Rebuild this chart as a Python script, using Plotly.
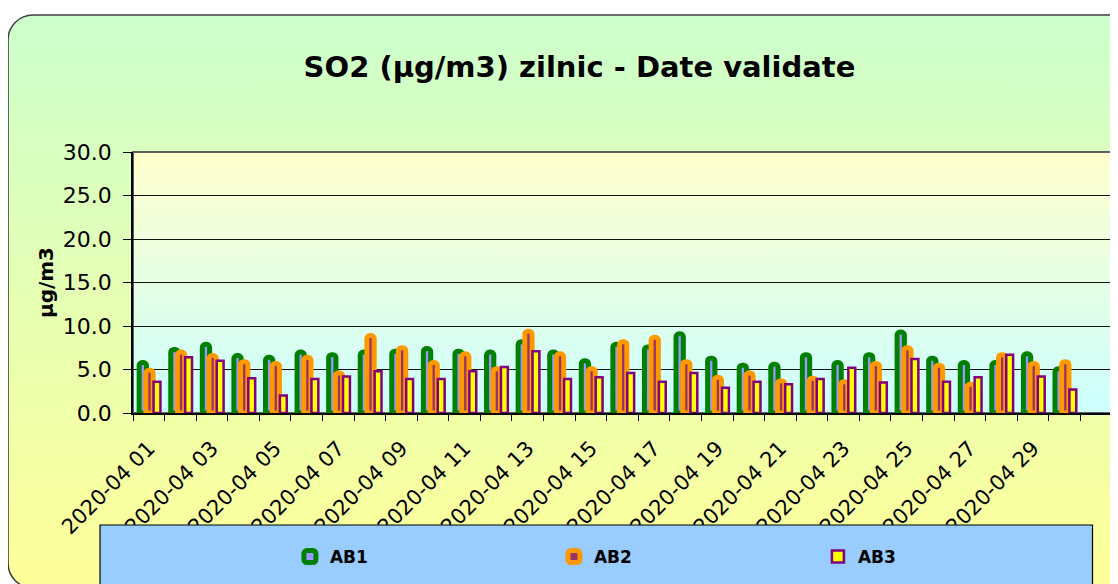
import base64
import plotly.graph_objects as go

# daily SO2 values (µg/m3), April 2020
days = [f"2020-04 {d:02d}" for d in range(1, 31)]
ab1 = [5.8, 7.3, 7.9, 6.6, 6.4, 7.0, 6.7, 7.0, 7.1, 7.4, 7.1, 7.0, 8.2, 7.0, 6.0,
       7.9, 7.6, 9.1, 6.3, 5.5, 5.6, 6.7, 5.8, 6.7, 9.3, 6.3, 5.8, 5.8, 6.8, 5.1]
ab2 = [4.9, 7.0, 6.6, 5.9, 5.7, 6.4, 4.6, 8.9, 7.5, 5.8, 6.8, 5.1, 9.4, 6.8, 5.1,
       8.2, 8.7, 5.9, 4.1, 4.6, 3.7, 4.0, 3.6, 5.7, 7.5, 5.5, 3.3, 6.7, 5.7, 5.9]
ab3 = [3.6, 6.4, 6.0, 4.0, 2.0, 3.9, 4.2, 4.8, 3.9, 3.9, 4.8, 5.3, 7.1, 3.9, 4.1,
       4.6, 3.6, 4.6, 2.9, 3.6, 3.3, 3.9, 5.2, 3.5, 6.2, 3.6, 4.1, 6.7, 4.2, 2.7]
y_ticks = [0, 5, 10, 15, 20, 25, 30]

W, H = 1118, 584
OFF = 8  # default body margin of the html page
# plot area in screen pixels
L, R, T, B = 133, 1112.5, 152, 413
PW, PH = R - L, B - T


def px_x(v):
    return (v - L) / PW


def px_y(v):
    return (B - v) / PH


svg = f'''<svg xmlns="http://www.w3.org/2000/svg" width="{W}" height="{H}" viewBox="0 0 {W} {H}" preserveAspectRatio="none">
<defs>
<linearGradient id="bg" x1="0" y1="0" x2="0" y2="1"><stop offset="0" stop-color="#CCFFCC"/><stop offset="1" stop-color="#FFFF99"/></linearGradient>
<linearGradient id="pa" x1="0" y1="0" x2="0" y2="1"><stop offset="0" stop-color="#FFFFCC"/><stop offset="1" stop-color="#CCFFFF"/></linearGradient>
</defs>
<rect x="8" y="15" width="1140" height="573" rx="25" fill="url(#bg)" stroke="#404040" stroke-width="1.5"/>
<rect x="{L}" y="{T}" width="{PW}" height="{PH}" fill="url(#pa)" stroke="#606060" stroke-width="2"/>
</svg>'''
svg_uri = "data:image/svg+xml;base64," + base64.b64encode(svg.encode()).decode()

x = list(range(1, len(days) + 1))
fig = go.Figure()
fig.add_trace(go.Bar(
    x=x, y=ab1, name="AB1", width=0.231, offset=-0.305,
    marker=dict(color="#9999FF", line=dict(color="#008000", width=5), cornerradius=3),
))
fig.add_trace(go.Bar(
    x=x, y=ab2, name="AB2", width=0.231, offset=-0.094,
    marker=dict(color="#993366", line=dict(color="#FF9900", width=5), cornerradius=3),
))
fig.add_trace(go.Bar(
    x=x, y=ab3, name="AB3", width=0.218, offset=0.151,
    marker=dict(color="#FFFF00", line=dict(color="#800080", width=2.5)),
))

fig.update_layout(
    width=W, height=H,
    margin=dict(l=L - OFF, r=W - R + OFF, t=T - OFF, b=H - B + OFF, autoexpand=False),
    paper_bgcolor="white",
    plot_bgcolor="rgba(0,0,0,0)",
    barmode="overlay",
    font=dict(family="DejaVu Sans", color="black"),
    title=dict(
        text="<b>SO2 (µg/m3) zilnic - Date validate</b>",
        font=dict(family="DejaVu Sans", size=29, color="black"),
        x=(579.5 - OFF) / W, xanchor="center", xref="container",
        y=1 - (67 - OFF) / H, yanchor="middle", yref="container",
    ),
    images=[dict(
        source=svg_uri, xref="paper", yref="paper",
        x=px_x(0), y=px_y(0), sizex=W / PW, sizey=H / PH,
        xanchor="left", yanchor="top", sizing="stretch", layer="below",
    )],
    shapes=[dict(
        type="rect", xref="paper", yref="paper",
        x0=px_x(100), x1=px_x(1093), y0=px_y(600), y1=px_y(525),
        fillcolor="#99CCFF", line=dict(color="black", width=1.2), layer="above",
    )],
    legend=dict(
        orientation="h", xref="paper", yref="paper",
        x=px_x(290), y=px_y(557), xanchor="left", yanchor="middle",
        bgcolor="rgba(0,0,0,0)", entrywidth=219,
        font=dict(family="DejaVu Sans", size=17, color="black", weight="bold"),
    ),
    showlegend=True,
)

fig.update_xaxes(
    range=[0.5, 31.5],
    tickmode="array", tickvals=x[::2], ticktext=days[::2],
    tickangle=-45, ticks="", ticklabelstandoff=13, ticklabelshift=0,
    tickfont=dict(family="DejaVu Sans", size=21, color="black"),
    showline=True, linecolor="black", linewidth=1.5,
    showgrid=False, zeroline=False,
    minor=dict(ticks="outside", ticklen=6, tickcolor="black", tickmode="linear",
               tick0=0.5, dtick=1, showgrid=False),
)
fig.update_yaxes(
    range=[0, 30], tickmode="array", tickvals=y_ticks, tickformat=".1f",
    ticks="outside", ticklen=8, tickcolor="black", ticklabelstandoff=7,
    tickfont=dict(family="DejaVu Sans", size=22, color="black"),
    showline=True, linecolor="black", linewidth=1.5,
    showgrid=True, gridcolor="#111111", gridwidth=1.2, zeroline=False,
    title=dict(text="<b>µg/m3</b>", standoff=4,
               font=dict(family="DejaVu Sans", size=20, color="black")),
)

fig.write_html("out.html")
